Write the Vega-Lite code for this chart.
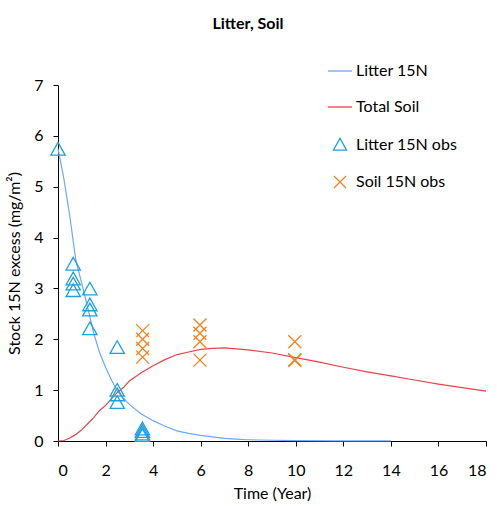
{
  "$schema": "https://vega.github.io/schema/vega-lite/v6.json",
  "width": 428,
  "height": 356,
  "autosize": {"type": "none"},
  "padding": {"left": 58, "top": 85, "right": 11, "bottom": 65},
  "background": "white",
  "title": {"text": "Litter, Soil", "font": "Lato", "fontSize": 16, "fontWeight": "bold", "color": "black", "anchor": "middle", "dx": -24, "offset": 31},
  "config": {
    "view": {"stroke": null},
    "axis": {"grid": false, "domainColor": "black", "tickColor": "black", "labelColor": "black", "titleColor": "black", "labelFont": "Lato", "titleFont": "Lato", "labelFontSize": 16, "titleFontSize": 16, "titleFontWeight": "normal", "tickSize": 5, "domainWidth": 1, "tickWidth": 1},
    "legend": {"labelFont": "Lato", "labelFontSize": 16, "labelColor": "black"}
  },
  "data": {"values": [
    {"t": 0, "v": 5.75, "series": "Litter 15N"},
    {"t": 0.25, "v": 5.15, "series": "Litter 15N"},
    {"t": 0.5, "v": 4.41, "series": "Litter 15N"},
    {"t": 0.75, "v": 3.55, "series": "Litter 15N"},
    {"t": 1.0, "v": 3.1, "series": "Litter 15N"},
    {"t": 1.25, "v": 2.62, "series": "Litter 15N"},
    {"t": 1.5, "v": 2.12, "series": "Litter 15N"},
    {"t": 1.75, "v": 1.74, "series": "Litter 15N"},
    {"t": 2.0, "v": 1.45, "series": "Litter 15N"},
    {"t": 2.25, "v": 1.2, "series": "Litter 15N"},
    {"t": 2.5, "v": 0.98, "series": "Litter 15N"},
    {"t": 2.75, "v": 0.84, "series": "Litter 15N"},
    {"t": 3.0, "v": 0.72, "series": "Litter 15N"},
    {"t": 3.5, "v": 0.53, "series": "Litter 15N"},
    {"t": 4.0, "v": 0.4, "series": "Litter 15N"},
    {"t": 4.5, "v": 0.29, "series": "Litter 15N"},
    {"t": 5.0, "v": 0.2, "series": "Litter 15N"},
    {"t": 5.5, "v": 0.15, "series": "Litter 15N"},
    {"t": 6.0, "v": 0.11, "series": "Litter 15N"},
    {"t": 6.5, "v": 0.08, "series": "Litter 15N"},
    {"t": 7.0, "v": 0.05, "series": "Litter 15N"},
    {"t": 7.5, "v": 0.035, "series": "Litter 15N"},
    {"t": 8.0, "v": 0.025, "series": "Litter 15N"},
    {"t": 9.0, "v": 0.015, "series": "Litter 15N"},
    {"t": 10.0, "v": 0.008, "series": "Litter 15N"},
    {"t": 12.0, "v": 0.003, "series": "Litter 15N"},
    {"t": 14.0, "v": 0.001, "series": "Litter 15N"},
    {"t": 0, "v": 0, "series": "Total Soil"},
    {"t": 0.25, "v": 0.01, "series": "Total Soil"},
    {"t": 0.5, "v": 0.06, "series": "Total Soil"},
    {"t": 0.75, "v": 0.13, "series": "Total Soil"},
    {"t": 1.0, "v": 0.22, "series": "Total Soil"},
    {"t": 1.25, "v": 0.34, "series": "Total Soil"},
    {"t": 1.5, "v": 0.46, "series": "Total Soil"},
    {"t": 1.75, "v": 0.6, "series": "Total Soil"},
    {"t": 2.0, "v": 0.7, "series": "Total Soil"},
    {"t": 2.25, "v": 0.83, "series": "Total Soil"},
    {"t": 2.5, "v": 0.96, "series": "Total Soil"},
    {"t": 2.75, "v": 1.05, "series": "Total Soil"},
    {"t": 3.0, "v": 1.18, "series": "Total Soil"},
    {"t": 3.5, "v": 1.34, "series": "Total Soil"},
    {"t": 4.0, "v": 1.48, "series": "Total Soil"},
    {"t": 4.5, "v": 1.6, "series": "Total Soil"},
    {"t": 5.0, "v": 1.7, "series": "Total Soil"},
    {"t": 5.5, "v": 1.75, "series": "Total Soil"},
    {"t": 6.0, "v": 1.8, "series": "Total Soil"},
    {"t": 6.5, "v": 1.82, "series": "Total Soil"},
    {"t": 7.0, "v": 1.83, "series": "Total Soil"},
    {"t": 7.5, "v": 1.81, "series": "Total Soil"},
    {"t": 8.0, "v": 1.79, "series": "Total Soil"},
    {"t": 9.0, "v": 1.73, "series": "Total Soil"},
    {"t": 10.0, "v": 1.64, "series": "Total Soil"},
    {"t": 11.0, "v": 1.55, "series": "Total Soil"},
    {"t": 12.0, "v": 1.45, "series": "Total Soil"},
    {"t": 13.0, "v": 1.36, "series": "Total Soil"},
    {"t": 14.0, "v": 1.28, "series": "Total Soil"},
    {"t": 15.0, "v": 1.2, "series": "Total Soil"},
    {"t": 16.0, "v": 1.12, "series": "Total Soil"},
    {"t": 17.0, "v": 1.05, "series": "Total Soil"},
    {"t": 18.0, "v": 0.98, "series": "Total Soil"},
    {"t": 0, "v": 5.73, "series": "Litter 15N obs"},
    {"t": 0.64, "v": 3.47, "series": "Litter 15N obs"},
    {"t": 0.64, "v": 3.18, "series": "Litter 15N obs"},
    {"t": 0.64, "v": 3.08, "series": "Litter 15N obs"},
    {"t": 0.64, "v": 2.95, "series": "Litter 15N obs"},
    {"t": 1.34, "v": 2.98, "series": "Litter 15N obs"},
    {"t": 1.34, "v": 2.67, "series": "Litter 15N obs"},
    {"t": 1.34, "v": 2.57, "series": "Litter 15N obs"},
    {"t": 1.34, "v": 2.2, "series": "Litter 15N obs"},
    {"t": 2.49, "v": 1.83, "series": "Litter 15N obs"},
    {"t": 2.49, "v": 0.99, "series": "Litter 15N obs"},
    {"t": 2.49, "v": 0.9, "series": "Litter 15N obs"},
    {"t": 2.49, "v": 0.75, "series": "Litter 15N obs"},
    {"t": 3.55, "v": 0.23, "series": "Litter 15N obs"},
    {"t": 3.55, "v": 0.18, "series": "Litter 15N obs"},
    {"t": 3.55, "v": 0.13, "series": "Litter 15N obs"},
    {"t": 3.55, "v": 0.1, "series": "Litter 15N obs"},
    {"t": 3.56, "v": 2.17, "series": "Soil 15N obs"},
    {"t": 3.56, "v": 2.0, "series": "Soil 15N obs"},
    {"t": 3.56, "v": 1.82, "series": "Soil 15N obs"},
    {"t": 3.56, "v": 1.65, "series": "Soil 15N obs"},
    {"t": 5.97, "v": 2.28, "series": "Soil 15N obs"},
    {"t": 5.97, "v": 2.12, "series": "Soil 15N obs"},
    {"t": 5.97, "v": 1.95, "series": "Soil 15N obs"},
    {"t": 5.97, "v": 1.59, "series": "Soil 15N obs"},
    {"t": 9.96, "v": 1.95, "series": "Soil 15N obs"},
    {"t": 9.96, "v": 1.6, "series": "Soil 15N obs"},
    {"t": 9.96, "v": 1.58, "series": "Soil 15N obs"}
  ]},
  "encoding": {
    "x": {"field": "t", "type": "quantitative", "scale": {"domain": [0, 18], "nice": false}, "axis": {"values": [0, 2, 4, 6, 8, 10, 12, 14, 16, 18], "title": "Time (Year)", "labelPadding": 16, "titlePadding": 7}},
    "y": {"field": "v", "type": "quantitative", "scale": {"domain": [0, 7], "nice": false}, "axis": {"values": [0, 1, 2, 3, 4, 5, 6, 7], "title": "Stock 15N excess (mg/m²)", "labelPadding": 10, "titlePadding": 11}},
    "color": {"field": "series", "type": "nominal", "scale": {"domain": ["Litter 15N", "Total Soil", "Litter 15N obs", "Soil 15N obs"], "range": ["#6EA6FF", "#E8434A", "#1BA1E2", "#F5821F"]},
      "legend": {"title": null, "orient": "none", "legendX": 274, "legendY": -22, "symbolSize": 144, "symbolStrokeWidth": 1.3, "rowPadding": 20, "labelOffset": 8, "values": ["Litter 15N", "Total Soil", "Litter 15N obs", "Soil 15N obs"]}}
  },
  "layer": [
    {
      "transform": [{"filter": "datum.series === 'Litter 15N' || datum.series === 'Total Soil'"}],
      "mark": {"type": "line", "strokeWidth": 1.2}
    },
    {
      "transform": [{"filter": "datum.series === 'Litter 15N obs' || datum.series === 'Soil 15N obs'"}],
      "mark": {"type": "point", "filled": false, "size": 169, "strokeWidth": 1.3, "opacity": 1},
      "encoding": {
        "shape": {"field": "series", "type": "nominal", "scale": {"domain": ["Litter 15N", "Total Soil", "Litter 15N obs", "Soil 15N obs"], "range": ["M-2,0H2", "M-2,0H2", "M0,-1.1L1.1,0.85L-1.1,0.85Z", "M-1,-1L1,1M-1,1L1,-1"]},
          "legend": {"title": null, "orient": "none", "legendX": 274, "legendY": -22, "symbolSize": 144, "symbolStrokeWidth": 1.3, "rowPadding": 20, "labelOffset": 8, "values": ["Litter 15N", "Total Soil", "Litter 15N obs", "Soil 15N obs"]}}
      }
    }
  ]
}
